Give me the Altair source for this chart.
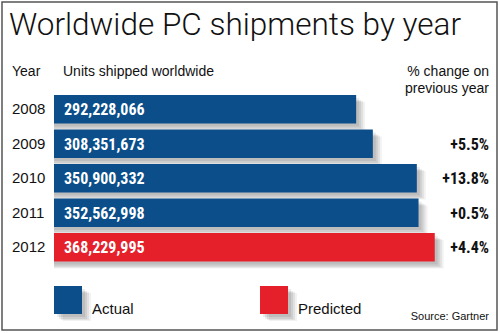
import altair as alt
import pandas as pd

years = ["2008", "2009", "2010", "2011", "2012"]
units = [292228066, 308351673, 350900332, 352562998, 368229995]
unit_labels = ["292,228,066", "308,351,673", "350,900,332", "352,562,998", "368,229,995"]
pct_change = ["", "+5.5%", "+13.8%", "+0.5%", "+4.4%"]
status = ["Actual", "Actual", "Actual", "Actual", "Predicted"]

legend_items = ["Actual", "Predicted"]
legend_colors = ["#0b4e8a", "#e5202a"]

df = pd.DataFrame({"year": years, "units": units, "label": unit_labels,
                   "pct": pct_change, "status": status})

xs = alt.Scale(domain=[0, 400e6], range=[54, 467.6])
ys = alt.Scale(domain=years, range=[95, 261.5], paddingInner=0.17, paddingOuter=0)
cs = alt.Scale(domain=legend_items, range=legend_colors)

TITLE_FONT = "Roboto, Liberation Sans, sans-serif"
BODY_FONT = "Liberation Sans, Arial, sans-serif"
NARROW = "Liberation Sans Narrow, Arial Narrow, Roboto Condensed, sans-serif"

SHADOW = [((3, 3), 0.08), ((5, 5), 0.08), ((7, 6), 0.07), ((9, 7), 0.05)]

base = alt.Chart(df)

shadows = []
for off, op in SHADOW:
    shadows.append(base.mark_bar(color="#000000", opacity=op, xOffset=off[0], yOffset=off[1]).encode(
        x=alt.X("units:Q", scale=xs, axis=None),
        x2=alt.datum(0),
        y=alt.Y("year:N", scale=ys, axis=None),
    ))

bars = base.mark_bar().encode(
    x=alt.X("units:Q", scale=xs, axis=None),
    x2=alt.datum(0),
    y=alt.Y("year:N", scale=ys, axis=None),
    color=alt.Color("status:N", scale=cs, legend=None),
)

year_text = base.mark_text(align="left", baseline="middle", font=BODY_FONT, fontSize=15, color="#111").encode(
    x=alt.value(12), y=alt.Y("year:N", scale=ys, axis=None), text="year:N")

val_text = base.mark_text(align="left", baseline="middle", font=NARROW, fontSize=16, fontWeight="bold",
                          color="white", dy=1).encode(
    x=alt.value(64), y=alt.Y("year:N", scale=ys, axis=None), text="label:N")

pct_text = base.mark_text(align="right", baseline="middle", font=NARROW, fontSize=16, fontWeight="bold",
                          color="#111", dy=1).encode(
    x=alt.value(489), y=alt.Y("year:N", scale=ys, axis=None), text="pct:N")

one = pd.DataFrame({"a": [0]})


def label(txt, x, y, size, align="left", font=BODY_FONT, weight="normal", color="#111"):
    return alt.Chart(one).mark_text(align=align, baseline="alphabetic", font=font, fontSize=size,
                                    fontWeight=weight, color=color).encode(
        x=alt.value(x), y=alt.value(y), text=alt.value(txt))


def box(x, y, s, color, opacity=1.0):
    return alt.Chart(one).mark_rect(color=color, opacity=opacity).encode(
        x=alt.value(x), x2=alt.value(x + s), y=alt.value(y), y2=alt.value(y + s))


layers = shadows + [bars, year_text, val_text, pct_text]

layers += [
    label("Worldwide PC shipments by year", 9, 35, 31.5, font=TITLE_FONT, weight=300),
    label("Year", 12, 76, 14),
    label("Units shipped worldwide", 63, 76, 14),
    label("% change on", 489, 76, 14, align="right"),
    label("previous year", 489, 93, 14, align="right"),
]

for name, col, lx in zip(legend_items, legend_colors, [54, 260]):
    for (ox, oy), op in SHADOW:
        layers.append(box(lx + ox, 286 + oy, 28, "#000000", op))
    layers.append(box(lx, 286, 28, col))
    layers.append(label(name, lx + 38, 314, 15))

layers.append(label("Source: Gartner", 489, 320, 11, align="right"))

layers.append(alt.Chart(one).mark_rect(fill=None, stroke="#555555", strokeWidth=1.5).encode(
    x=alt.value(2), x2=alt.value(497), y=alt.value(2), y2=alt.value(330)))

chart = alt.layer(*layers).properties(
    width=500, height=333, autosize=alt.AutoSizeParams(type="none"), padding=0, background="white"
).configure_view(stroke=None)

chart.save("out.html", embed_options={"renderer": "svg", "actions": False})
